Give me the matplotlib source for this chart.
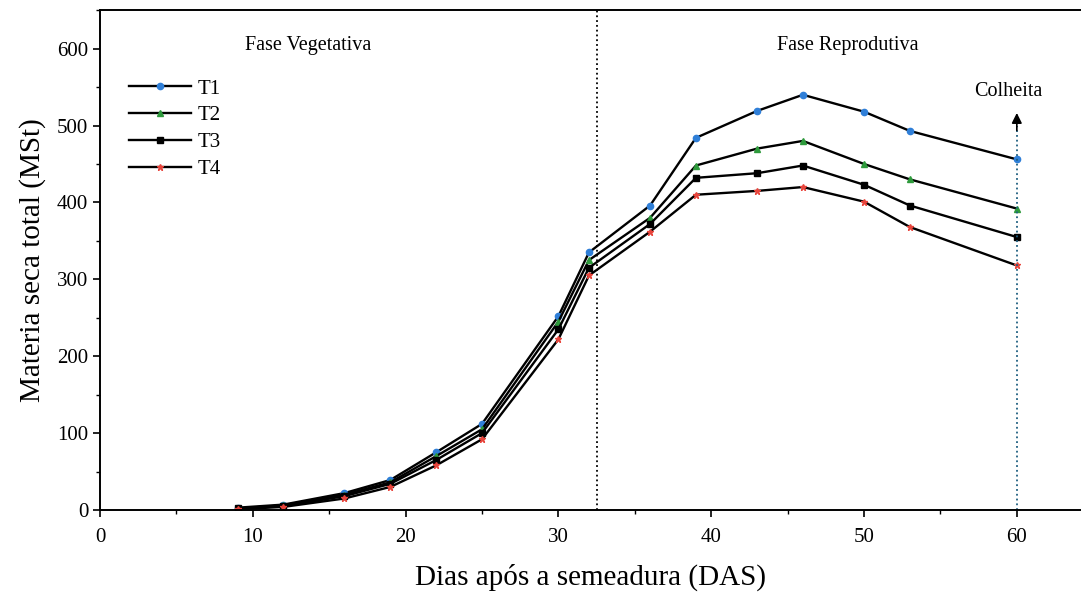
import matplotlib.pyplot as plt
from matplotlib.ticker import MultipleLocator

plt.rcParams["font.family"] = ["Liberation Serif", "DejaVu Serif"]

# dias apos a semeadura
das = [9, 12, 16, 19, 22, 25, 30, 32, 36, 39, 43, 46, 50, 53, 60]

t1 = [3, 7, 22, 39, 75, 112, 252, 335, 396, 484, 519, 540, 518, 493, 456]
t2 = [2, 6, 20, 36, 70, 105, 245, 325, 380, 448, 470, 480, 450, 430, 392]
t3 = [2, 5, 18, 34, 65, 100, 235, 315, 372, 432, 438, 448, 423, 396, 355]
t4 = [1, 4, 15, 30, 58, 92, 222, 305, 362, 410, 415, 420, 401, 368, 318]

series = [("T1", t1, "#2f7fd8", "o"),
          ("T2", t2, "#2e9a3c", "^"),
          ("T3", t3, "black", "s"),
          ("T4", t4, "#e8453c", "*")]

fase_limite = 32.5
colheita = 60

fig = plt.figure(figsize=(10.81, 6), dpi=100)
ax = fig.add_axes([0.0925, 0.15, 0.9075, 0.833])

for nome, vals, cor, mk in series:
    ax.plot(das, vals, color="black", lw=1.7, marker=mk, markersize=4.5,
            markerfacecolor=cor, markeredgecolor=cor, label=nome)

ax.axvline(fase_limite, color="black", ls=":", lw=1.3)
ax.plot([colheita, colheita], [0, 500], color="#1f5f80", ls=":", lw=1.3)
ax.annotate("", xy=(colheita, 520), xytext=(colheita, 490),
            arrowprops=dict(arrowstyle="-|>", color="black", lw=1.2,
                            mutation_scale=15))

ax.text(9.5, 598, "Fase Vegetativa", fontsize=14.5)
ax.text(44.3, 598, "Fase Reprodutiva", fontsize=14.5)
ax.text(57.2, 538, "Colheita", fontsize=14.5)

ax.set_xlim(0, 64.2)
ax.set_ylim(0, 650)
ax.xaxis.set_major_locator(MultipleLocator(10))
ax.xaxis.set_minor_locator(MultipleLocator(5))
ax.yaxis.set_major_locator(MultipleLocator(100))
ax.yaxis.set_minor_locator(MultipleLocator(50))
ax.tick_params(which="major", length=5, width=1.2, labelsize=15)
ax.tick_params(which="minor", length=3, width=1.0)
ax.tick_params(axis="x", pad=8)
ax.spines["right"].set_visible(False)
for s in ["left", "bottom", "top"]:
    ax.spines[s].set_linewidth(1.4)

ax.set_xlabel("Dias após a semeadura (DAS)", fontsize=21, labelpad=12)
ax.set_ylabel("Materia seca total (MSt)", fontsize=21, labelpad=8)

ax.legend(loc="upper left", bbox_to_anchor=(0.01, 0.9), frameon=False,
          fontsize=15, handlelength=3.0, labelspacing=0.35, handletextpad=0.3)

fig.savefig("out.png", dpi=100)
